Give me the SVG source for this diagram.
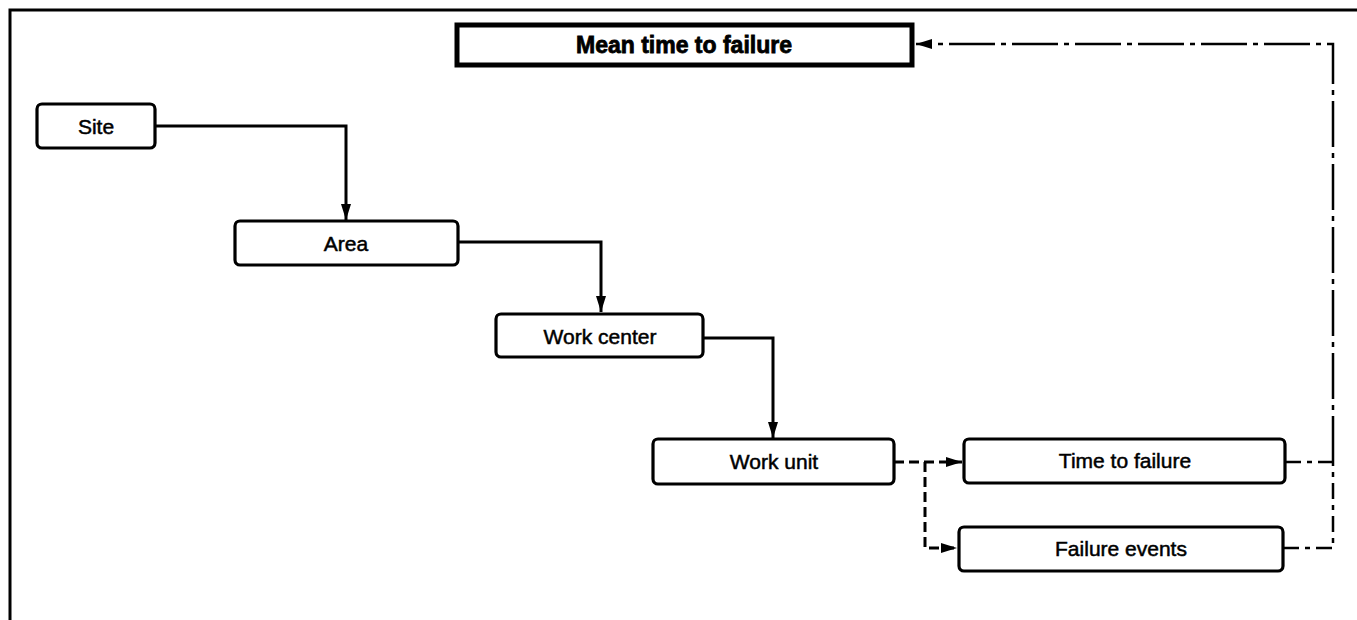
<svg xmlns="http://www.w3.org/2000/svg" width="1357" height="620" viewBox="0 0 1357 620">
<style>
.node{fill:#fff;stroke:#000;stroke-width:3.2}
.lbl{font-family:"Liberation Sans",Arial,sans-serif;font-size:21px;fill:#000;stroke:#000;stroke-width:0.5;text-anchor:middle;dominant-baseline:central}
.solid{fill:none;stroke:#000;stroke-width:3}
.dash{fill:none;stroke:#000;stroke-width:3;stroke-dasharray:10,5}
.dashdot{fill:none;stroke:#000;stroke-width:2.5;stroke-dasharray:46,6,5,6}
.dashdot-s{fill:none;stroke:#000;stroke-width:2.5;stroke-dasharray:16,6,5,6}
</style>
<defs>
<marker id="arr" markerWidth="16" markerHeight="10" refX="16" refY="5" orient="auto" markerUnits="userSpaceOnUse">
<path d="M0,0 L16,5 L0,10 Z" fill="#000"/>
</marker>
</defs>
<rect width="1357" height="620" fill="#fff"/>
<path d="M10,620 V10 H1357" fill="none" stroke="#000" stroke-width="3"/>
<g id="connectors">
<path class="solid" d="M155,126 H346 V220" marker-end="url(#arr)"/>
<path class="solid" d="M458,242 H601 V312" marker-end="url(#arr)"/>
<path class="solid" d="M703,338 H773 V438" marker-end="url(#arr)"/>
<path class="dash" d="M894,462 H962" marker-end="url(#arr)"/>
<path class="dash" d="M925,462 V548 H957" marker-end="url(#arr)"/>
<path class="dashdot-s" d="M1285,462 H1333"/>
<path class="dashdot-s" d="M1283,548 H1333 V462"/>
<path class="dashdot" d="M1333,462 V44 H916" marker-end="url(#arr)"/>
</g>
<g id="mttf">
<rect x="457" y="25" width="455" height="40" fill="#fff" stroke="#000" stroke-width="5"/>
<text class="lbl" x="684" y="45" font-weight="bold" style="font-size:23px;stroke-width:0.8">Mean time to failure</text>
</g>
<g id="site">
<rect class="node" x="37" y="104" width="118" height="44" rx="5"/>
<text class="lbl" x="96" y="126">Site</text>
</g>
<g id="area">
<rect class="node" x="235" y="221" width="223" height="44" rx="5"/>
<text class="lbl" x="346" y="243">Area</text>
</g>
<g id="workcenter">
<rect class="node" x="496" y="314" width="207" height="43" rx="5"/>
<text class="lbl" x="600" y="336">Work center</text>
</g>
<g id="workunit">
<rect class="node" x="653" y="439" width="241" height="45" rx="5"/>
<text class="lbl" x="774" y="461">Work unit</text>
</g>
<g id="timetofailure">
<rect class="node" x="964" y="439" width="321" height="44" rx="5"/>
<text class="lbl" x="1125" y="460">Time to failure</text>
</g>
<g id="failureevents">
<rect class="node" x="959" y="527" width="324" height="44" rx="5"/>
<text class="lbl" x="1121" y="548">Failure events</text>
</g>
</svg>
